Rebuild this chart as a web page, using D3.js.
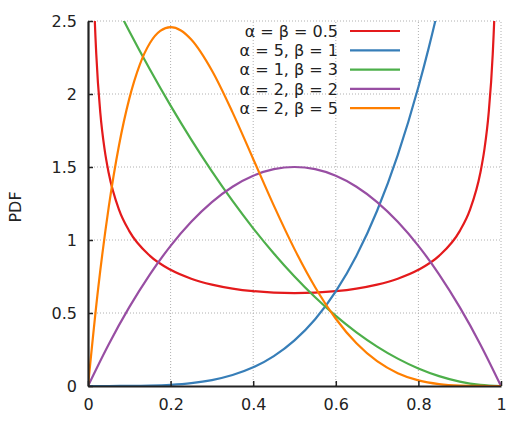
<!DOCTYPE html>
<html><head><meta charset="utf-8">
<script src="https://cdn.jsdelivr.net/npm/d3@7"></script>
<style>body{margin:0;background:#fff}svg{display:block}text{font-family:"DejaVu Sans",sans-serif}</style>
</head><body><div id="chart"></div>
<script>
// Data
const xTicks = [0, 0.2, 0.4, 0.6, 0.8, 1];
const xTickLabels = ["0", "0.2", "0.4", "0.6", "0.8", "1"];
const yTicks = [0, 0.5, 1, 1.5, 2, 2.5];
const yTickLabels = ["0", "0.5", "1", "1.5", "2", "2.5"];
const seriesNames = ["α = β = 0.5", "α = 5, β = 1", "α = 1, β = 3", "α = 2, β = 2", "α = 2, β = 5"];
const seriesColors = ["#e41a1c", "#377eb8", "#4daf4a", "#984ea3", "#ff7f00"];

const halfX = [0.002,0.005,0.01,0.015,0.02,0.03,0.04,0.05,0.075,0.1,0.15,0.2,0.25,0.3,0.35,0.4,0.45,0.5,0.55,0.6,0.65,0.7,0.75,0.8,0.85,0.9,0.925,0.95,0.96,0.97,0.98,0.985,0.99,0.995,0.998];
const halfY = [7.12,4.513,3.199,2.619,2.274,1.866,1.624,1.4605,1.2085,1.061,0.8915,0.7958,0.7351,0.6946,0.6674,0.6497,0.6398,0.6366,0.6398,0.6497,0.6674,0.6946,0.7351,0.7958,0.8915,1.061,1.2085,1.4605,1.624,1.866,2.274,2.619,3.199,4.513,7.12];

const fiveOneX = [0,0.05,0.1,0.15,0.2,0.25,0.3,0.35,0.4,0.45,0.5,0.55,0.6,0.65,0.7,0.75,0.8,0.825,0.85,0.9];
const fiveOneY = [0,0.00003,0.0005,0.00253,0.008,0.0195,0.0405,0.075,0.128,0.205,0.3125,0.4575,0.648,0.8925,1.2005,1.582,2.048,2.316,2.61,3.2805];

const oneThreeX = [0,0.05,0.1,0.15,0.2,0.25,0.3,0.35,0.4,0.45,0.5,0.55,0.6,0.65,0.7,0.75,0.8,0.85,0.9,0.95,1];
const oneThreeY = [3,2.7075,2.43,2.1675,1.92,1.6875,1.47,1.2675,1.08,0.9075,0.75,0.6075,0.48,0.3675,0.27,0.1875,0.12,0.0675,0.03,0.0075,0];

const twoTwoX = [0,0.05,0.1,0.15,0.2,0.25,0.3,0.35,0.4,0.45,0.5,0.55,0.6,0.65,0.7,0.75,0.8,0.85,0.9,0.95,1];
const twoTwoY = [0,0.285,0.54,0.765,0.96,1.125,1.26,1.365,1.44,1.485,1.5,1.485,1.44,1.365,1.26,1.125,0.96,0.765,0.54,0.285,0];

const twoFiveX = [0,0.025,0.05,0.075,0.1,0.125,0.15,0.175,0.2,0.225,0.25,0.3,0.35,0.4,0.45,0.5,0.55,0.6,0.65,0.7,0.75,0.8,0.85,0.9,0.95,1];
const twoFiveY = [0,0.6778,1.2218,1.6472,1.9683,2.1982,2.349,2.4321,2.4576,2.4351,2.373,2.1609,1.8743,1.5552,1.2353,0.9375,0.6766,0.4608,0.2926,0.1701,0.0879,0.0384,0.0129,0.0027,0.00018,0];

const seriesX = [halfX, fiveOneX, oneThreeX, twoTwoX, twoFiveX];
const seriesY = [halfY, fiveOneY, oneThreeY, twoTwoY, twoFiveY];

const W = 531, H = 425;
const m = {left: 88, right: 30, top: 21, bottom: 39};
const svg = d3.select("#chart").append("svg").attr("width", W).attr("height", H);
const x = d3.scaleLinear().domain([0, 1]).range([m.left, W - m.right]);
const y = d3.scaleLinear().domain([0, 2.5]).range([H - m.bottom, m.top]);
const FS = "16px";

// grid
const grid = svg.append("g").attr("stroke", "#b0b0b0").attr("stroke-width", 1).attr("stroke-dasharray", "1,2");
xTicks.slice(1).forEach(t => grid.append("line").attr("x1", x(t)).attr("x2", x(t)).attr("y1", y(0)).attr("y2", y(2.5)));
yTicks.slice(1).forEach(t => grid.append("line").attr("x1", x(0)).attr("x2", x(1)).attr("y1", y(t)).attr("y2", y(t)));

// curves
svg.append("defs").append("clipPath").attr("id", "clip").append("rect")
  .attr("x", x(0)).attr("y", y(2.5)).attr("width", x(1) - x(0)).attr("height", y(0) - y(2.5));
const line = d3.line().x(d => x(d[0])).y(d => y(d[1])).curve(d3.curveMonotoneX);
const curves = svg.append("g").attr("clip-path", "url(#clip)");
seriesX.forEach((xs, i) => {
  const pts = xs.map((v, j) => [v, seriesY[i][j]]);
  curves.append("path").attr("d", line(pts)).attr("fill", "none")
    .attr("stroke", seriesColors[i]).attr("stroke-width", 2.2).attr("stroke-linejoin", "round");
});

// axes
const xAxis = d3.axisBottom(x).tickValues(xTicks).tickFormat((d, i) => xTickLabels[i]).tickSizeInner(-5).tickSizeOuter(0).tickPadding(13);
const yAxis = d3.axisLeft(y).tickValues(yTicks).tickFormat((d, i) => yTickLabels[i]).tickSizeInner(-5).tickSizeOuter(0).tickPadding(11);
const gx = svg.append("g").attr("transform", `translate(0,${y(0)})`).call(xAxis);
const gy = svg.append("g").attr("transform", `translate(${x(0)},0)`).call(yAxis);
[gx, gy].forEach(g => {
  g.select(".domain").attr("stroke", "#222").attr("stroke-width", 2.2);
  g.selectAll(".tick line").attr("stroke", "#222").attr("stroke-width", 1.5);
  g.selectAll(".tick text").attr("fill", "#222").style("font-size", FS).style("font-family", "DejaVu Sans");
});
gx.selectAll(".tick text").attr("dy", "0.71em");

svg.append("text").attr("transform", `translate(21,207) rotate(-90)`)
  .attr("text-anchor", "middle").attr("fill", "#222").style("font-size", FS).text("PDF");

// legend
const lg = svg.append("g");
seriesNames.forEach((n, i) => {
  const yy = 31 + i * 19.3;
  lg.append("text").attr("x", 338).attr("y", yy).attr("dy", "0.35em").attr("text-anchor", "end")
    .attr("fill", "#222").style("font-size", FS).text(n);
  lg.append("line").attr("x1", 350).attr("x2", 400).attr("y1", yy).attr("y2", yy)
    .attr("stroke", seriesColors[i]).attr("stroke-width", 2.2);
});
</script></body></html>
